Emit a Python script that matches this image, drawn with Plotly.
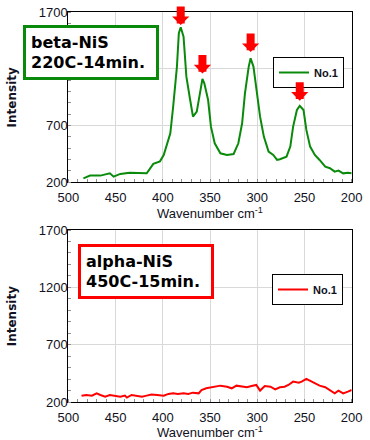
import plotly.graph_objects as go

# ---- data ----
beta_wn = [484, 477, 466, 459, 456, 452, 445, 435, 424, 417, 410, 403, 399, 396, 392, 389,
           385, 383, 381, 378, 375, 371, 368, 364, 361, 358, 356, 352, 349, 345, 339, 332,
           325, 320, 316, 313, 309, 307, 304, 300, 297, 293, 288, 283, 279, 276, 269, 265,
           262, 258, 255, 251, 248, 244, 239, 234, 228, 223, 218, 214, 209, 204, 200]
beta_int = [235, 259, 259, 274, 279, 250, 274, 285, 279, 279, 362, 385, 441, 515, 632, 868,
            1221, 1515, 1568, 1485, 1132, 926, 779, 824, 956, 1112, 1074, 926, 691, 544, 456, 441,
            450, 544, 721, 985, 1221, 1294, 1221, 985, 779, 603, 471, 441, 397, 403, 426, 515,
            691, 838, 874, 838, 662, 515, 441, 397, 338, 324, 294, 303, 279, 285, 279]

alpha_wn = [486, 481, 475, 470, 466, 461, 456, 451, 445, 440, 438, 433, 428, 422, 417, 412,
            406, 399, 394, 389, 384, 378, 373, 368, 362, 359, 354, 346, 339, 332, 327, 322,
            316, 311, 306, 301, 297, 292, 286, 281, 276, 271, 267, 262, 256, 253, 248, 244,
            239, 234, 228, 223, 218, 214, 209, 204, 200]
alpha_int = [258, 264, 258, 278, 264, 249, 264, 258, 249, 258, 241, 264, 258, 249, 258, 267,
             264, 258, 273, 278, 273, 278, 273, 284, 278, 307, 322, 331, 345, 336, 322, 345,
             336, 331, 342, 351, 302, 342, 336, 313, 331, 336, 351, 380, 371, 380, 403, 386,
             365, 345, 331, 307, 278, 302, 278, 293, 307]

peak_wn = [381, 358, 307, 255]
peak_int = [1587, 1161, 1349, 920]

x_ticks = [500, 450, 400, 350, 300, 250, 200]
y_ticks = [200, 700, 1200, 1700]
y_labels_top = ["200", "700", "", "1700"]
y_labels_bottom = ["200", "700", "1200", "1700"]
series_name = "No.1"
box_texts = ["beta-NiS<br>220C-14min.", "alpha-NiS<br>450C-15min."]

GREEN = "#0a8a0a"
RED = "#ff0000"
TXT = "#111122"

fig = go.Figure()
fig.add_trace(go.Scatter(x=beta_wn, y=beta_int, mode="lines", name=series_name,
                         line=dict(color=GREEN, width=2), xaxis="x", yaxis="y",
                         legend="legend"))
fig.add_trace(go.Scatter(x=alpha_wn, y=alpha_int, mode="lines", name=series_name,
                         line=dict(color=RED, width=2), xaxis="x2", yaxis="y2",
                         legend="legend2"))

xdom = [68.3 / 370, 351.7 / 370]
top_dom = [1 - 182.3 / 440, 1 - 12.3 / 440]
bot_dom = [1 - 402.3 / 440, 1 - 230 / 440]


def xaxis(anchor):
    return dict(range=[500, 200], domain=xdom, anchor=anchor, tickmode="array",
                tickvals=x_ticks, showgrid=True, gridcolor="#d9d9d9", gridwidth=1,
                showline=True, linecolor="black", linewidth=1, mirror=True, ticks="",
                zeroline=False, ticklabelstandoff=3,
                tickfont=dict(family="Liberation Sans", size=13, color=TXT),
                minor=dict(tick0=0, dtick=10, ticks="inside", ticklen=3,
                           tickcolor="#909090", showgrid=False),
                title=dict(text="Wavenumber cm<sup>-1</sup>", standoff=4,
                           font=dict(family="Liberation Sans", size=13, color=TXT)),
                automargin=False, fixedrange=True)


def yaxis(anchor, dom, labels):
    return dict(range=[200, 1700], domain=dom, anchor=anchor, tickmode="array",
                tickvals=y_ticks, ticktext=labels, showgrid=True, gridcolor="#d9d9d9",
                gridwidth=1, showline=True, linecolor="black", linewidth=1, mirror=True,
                ticks="", zeroline=False, ticklabelstandoff=-3,
                tickfont=dict(family="Liberation Sans", size=13, color=TXT),
                minor=dict(tick0=0, dtick=100, ticks="inside", ticklen=3,
                           tickcolor="#909090", showgrid=False),
                title=dict(text="Intensity", standoff=19,
                           font=dict(family="DejaVu Sans", size=12, color=TXT, weight="bold")),
                automargin=False, fixedrange=True)


legend_common = dict(xanchor="left", yanchor="top", bordercolor="black", borderwidth=1,
                     bgcolor="white", itemwidth=30,
                     font=dict(family="Liberation Sans", size=11, color=TXT, weight="bold"))

annotations = []
for wn, inten in zip(peak_wn, peak_int):
    annotations.append(dict(x=wn, y=inten, xref="x", yref="y", ax=0, ay=-20,
                            showarrow=True, arrowhead=1, arrowwidth=8, arrowsize=0.36,
                            arrowcolor=RED, text="", standoff=0))

box_specs = [(23, 25, GREEN), (78, 244, RED)]
for (bx, by, col), txt in zip(box_specs, box_texts):
    annotations.append(dict(x=bx / 370, y=1 - by / 440, xref="paper", yref="paper",
                            xanchor="left", yanchor="top", showarrow=False, text=txt,
                            align="left", width=120, height=39, borderpad=5,
                            borderwidth=3, bordercolor=col, bgcolor="white",
                            font=dict(family="DejaVu Sans", size=16, color="black",
                                      weight="bold")))

fig.update_layout(
    width=370, height=440, margin=dict(l=0, r=0, t=0, b=0),
    paper_bgcolor="white", plot_bgcolor="white",
    xaxis=xaxis("y"), yaxis=yaxis("x", top_dom, y_labels_top),
    xaxis2=xaxis("y2"), yaxis2=yaxis("x2", bot_dom, y_labels_bottom),
    legend=dict(x=273 / 370, y=1 - 57 / 440, **legend_common),
    legend2=dict(x=272 / 370, y=1 - 274 / 440, **legend_common),
    annotations=annotations,
    showlegend=True,
)

fig.write_html("out.html", config={"displayModeBar": False},
               post_script="document.body.style.margin='0px';document.body.style.overflow='hidden';")
